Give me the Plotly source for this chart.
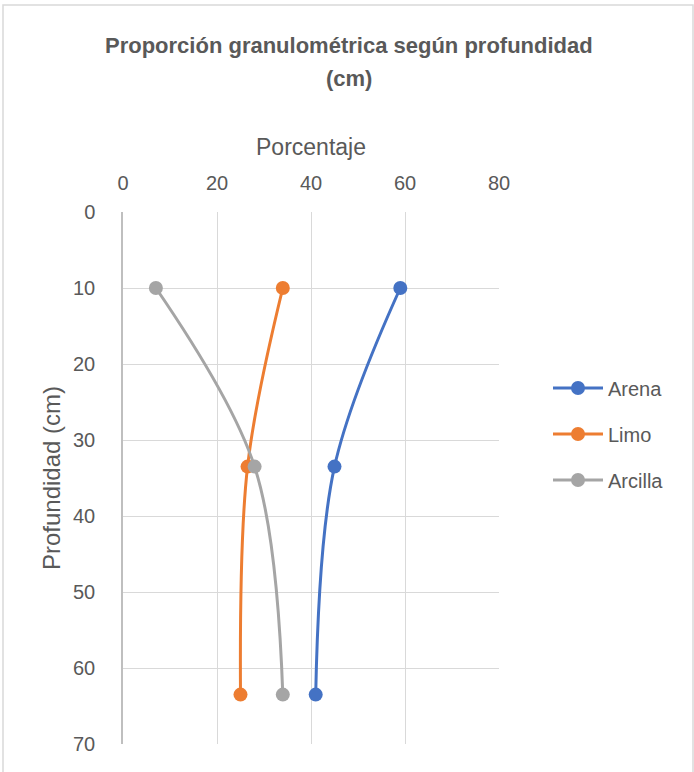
import plotly.graph_objects as go

depth = [10, 33.5, 63.5]
arena = [59, 45, 41]
limo = [34, 26.5, 25]
arcilla = [7, 28, 34]
series_names = ["Arena", "Limo", "Arcilla"]
colors = ["#4472C4", "#ED7D31", "#A5A5A5"]
x_ticks = [0, 20, 40, 60, 80]
y_ticks = [0, 10, 20, 30, 40, 50, 60, 70]
title_lines = ["Proporción granulométrica según profundidad", "(cm)"]

W, H = 694, 772
L, R, T, B = 123, 499, 212, 744

def px(xp):
    return (xp - L) / (R - L)

def py(yp):
    return 1 - (yp - T) / (B - T)

fig = go.Figure()
for name, vals, c in zip(series_names, [arena, limo, arcilla], colors):
    fig.add_trace(go.Scatter(
        x=vals, y=depth, name=name, legendgroup=name,
        mode="lines+markers",
        line=dict(color=c, width=3, shape="spline", smoothing=1.0),
        marker=dict(color=c, size=14),
    ))

font_family = "Liberation Sans, Arial, sans-serif"
txt = "#595959"
fig.update_layout(
    width=W, height=H,
    margin=dict(l=L, r=W - R, t=T, b=H - B, pad=0),
    paper_bgcolor="white", plot_bgcolor="white",
    font=dict(family=font_family, color=txt, size=20),
    xaxis=dict(
        side="top", range=[0, 80], tickvals=x_ticks,
        showgrid=True, gridcolor="#D9D9D9", gridwidth=1.3,
        showline=False, zeroline=False, ticks="",
        ticklabelstandoff=17,
        tickfont=dict(size=20),
        title=dict(text="Porcentaje", font=dict(size=23), standoff=9),
    ),
    yaxis=dict(
        range=[70, 0], tickvals=y_ticks,
        showgrid=True, gridcolor="#D9D9D9", gridwidth=1.3,
        showline=True, linecolor="#BFBFBF", linewidth=1.5,
        zeroline=False, ticks="",
        ticklabelstandoff=22,
        tickfont=dict(size=20),
        title=dict(text="Profundidad (cm)", font=dict(size=24), standoff=6),
    ),
    legend=dict(
        x=px(548), xanchor="left", y=py(434), yanchor="middle",
        font=dict(size=20), tracegroupgap=17,
        itemwidth=50, bgcolor="rgba(0,0,0,0)",
    ),
    shapes=[
        dict(type="rect", xref="paper", yref="paper",
             x0=px(3), x1=px(693), y0=py(790), y1=py(5),
             line=dict(color="#D9D9D9", width=1.5), layer="below"),
    ],
)

for line, yc in zip(title_lines, [45, 78]):
    fig.add_annotation(
        text="<b>" + line + "</b>", xref="paper", yref="paper",
        x=px(349), y=py(yc), xanchor="center", yanchor="middle",
        showarrow=False, font=dict(size=22, color=txt, family=font_family),
    )

fig.write_html("out.html")
